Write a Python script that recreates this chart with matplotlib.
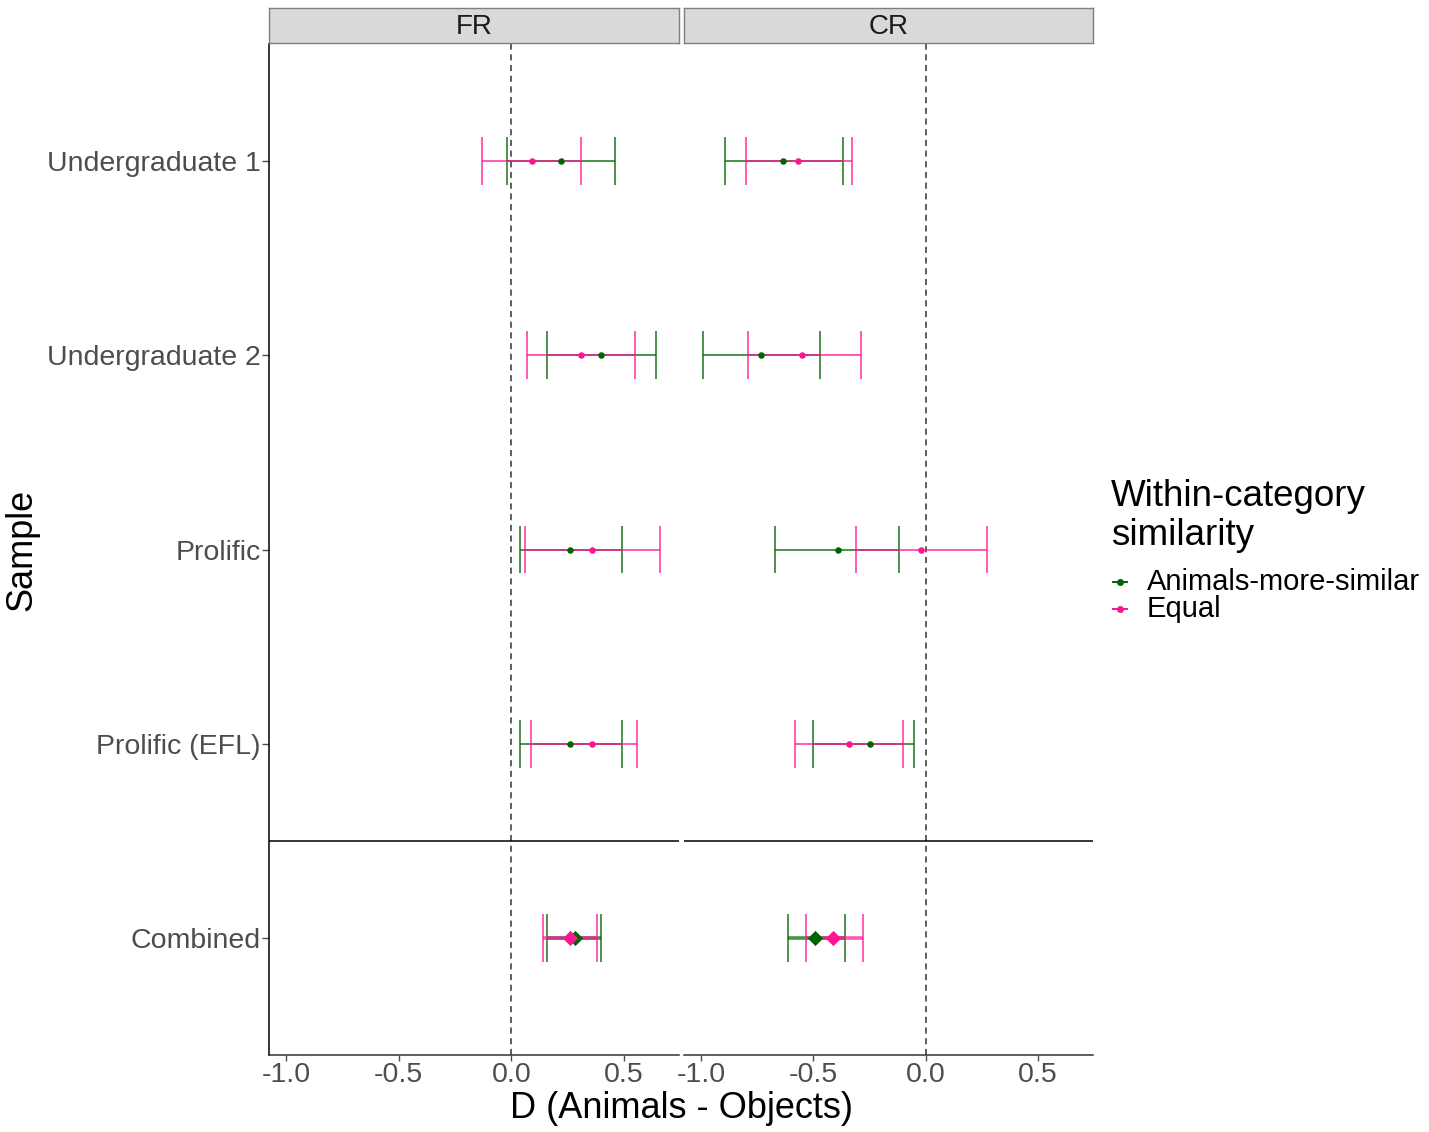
import matplotlib
matplotlib.use("Agg")
import matplotlib.pyplot as plt
from matplotlib.lines import Line2D

plt.rcParams['font.family'] = ['Liberation Sans', 'DejaVu Sans']

# samples, top to bottom
samples = ["Undergraduate 1", "Undergraduate 2", "Prolific", "Prolific (EFL)", "Combined"]
panels = ["FR", "CR"]
groups = ["Animals-more-similar", "Equal"]

# FR estimates and 95% intervals
fr_green_est = [0.221, 0.400, 0.261, 0.261, 0.281]
fr_green_lo = [-0.021, 0.160, 0.039, 0.039, 0.158]
fr_green_hi = [0.461, 0.641, 0.492, 0.492, 0.400]
fr_pink_est = [0.090, 0.310, 0.360, 0.360, 0.260]
fr_pink_lo = [-0.132, 0.070, 0.059, 0.089, 0.139]
fr_pink_hi = [0.311, 0.551, 0.662, 0.560, 0.380]

# CR estimates and 95% intervals
cr_green_est = [-0.633, -0.732, -0.391, -0.250, -0.491]
cr_green_lo = [-0.892, -0.993, -0.671, -0.501, -0.612]
cr_green_hi = [-0.369, -0.471, -0.120, -0.050, -0.360]
cr_pink_est = [-0.570, -0.551, -0.019, -0.341, -0.412]
cr_pink_lo = [-0.801, -0.793, -0.310, -0.581, -0.531]
cr_pink_hi = [-0.330, -0.290, 0.271, -0.099, -0.281]

xticks = [-1.0, -0.5, 0.0, 0.5]

green = "#006400"
pink = "#FF1493"

W, H = 1429, 1132
fig = plt.figure(figsize=(W / 100, H / 100), dpi=100)


def box(x0, y0, x1, y1):
    return [x0 / W, 1 - y1 / H, (x1 - x0) / W, (y1 - y0) / H]


data = {
    "FR": [(fr_green_est, fr_green_lo, fr_green_hi, green),
           (fr_pink_est, fr_pink_lo, fr_pink_hi, pink)],
    "CR": [(cr_green_est, cr_green_lo, cr_green_hi, green),
           (cr_pink_est, cr_pink_lo, cr_pink_hi, pink)],
}

ax_boxes = {"FR": (269, 44, 679, 1055), "CR": (684, 44, 1093, 1055)}
ypos = list(range(1, len(samples) + 1))
cap = 0.123

for name in panels:
    x0, y0, x1, y1 = ax_boxes[name]
    ax = fig.add_axes(box(x0, y0, x1, y1))
    ax.set_xlim(-1.076, 0.745)
    ax.set_ylim(5.6, 0.4)

    ax.axvline(0, color="#333333", lw=1.1, ls=(0, (4, 3)), zorder=1)
    ax.axhline(4.5, color="black", lw=1.1, zorder=1)

    # interval lines, green first then pink on top
    for est, lo, hi, col in data[name]:
        for i, y in enumerate(ypos):
            lw = 2.6 if samples[i] == "Combined" else 1.4
            ax.hlines(y, lo[i], hi[i], color=col, alpha=0.7, lw=lw, zorder=2)
            ax.vlines([lo[i], hi[i]], y - cap, y + cap, color=col, alpha=0.7, lw=1.4, zorder=2)
    # points
    for est, lo, hi, col in data[name]:
        ax.scatter(est[:4], ypos[:4], s=22, color=col, zorder=3, linewidths=0)
        ax.scatter(est[4:], ypos[4:], s=60, marker="D", color=col, zorder=3, linewidths=0)

    ax.set_xticks(xticks)
    ax.set_xticklabels(["%.1f" % v for v in xticks])
    ax.tick_params(axis="x", labelsize=20.5, colors="#4D4D4D", length=4, width=1, pad=1)
    for sp in ["top", "right"]:
        ax.spines[sp].set_visible(False)
    ax.spines["bottom"].set_color("#333333")
    ax.spines["bottom"].set_linewidth(1.1)
    if name == "FR":
        ax.set_yticks(ypos)
        ax.set_yticklabels(samples)
        ax.tick_params(axis="y", labelsize=20.5, colors="#4D4D4D", length=5, width=1, pad=1)
        ax.spines["left"].set_color("black")
        ax.spines["left"].set_linewidth(1.1)
    else:
        ax.set_yticks([])
        ax.spines["left"].set_visible(False)

    # facet strip
    sx = fig.add_axes(box(x0, 8, x1, 43))
    sx.set_facecolor("#D9D9D9")
    sx.set_xticks([])
    sx.set_yticks([])
    for sp in sx.spines.values():
        sp.set_color("#7F7F7F")
        sp.set_linewidth(1)
    sx.text(0.5, 0.47, name, ha="center", va="center", fontsize=20, color="#1A1A1A",
            transform=sx.transAxes)

fig.text(681 / W, 1 - 1109 / H, "D (Animals - Objects)", ha="center", va="center", fontsize=26)
fig.text(22 / W, 1 - 550 / H, "Sample", ha="center", va="center", rotation=90, fontsize=26)

# legend drawn by hand so it sits where the reference has it
fig.text(1111 / W, 1 - 516 / H, "Within-category\nsimilarity", ha="left", va="center",
         fontsize=26.5, linespacing=1.12)
for k, (lab, col) in enumerate(zip(groups, [green, pink])):
    yk = 1 - (582 + 27 * k) / H
    fig.add_artist(Line2D([1113 / W, 1127 / W], [yk, yk], color=col, lw=1.4,
                          transform=fig.transFigure))
    fig.add_artist(Line2D([1120 / W], [yk], color=col, marker="o", markersize=4, lw=0,
                          transform=fig.transFigure))
    fig.text(1147 / W, yk, lab, ha="left", va="center", fontsize=21)

fig.savefig("out.png", dpi=100)
